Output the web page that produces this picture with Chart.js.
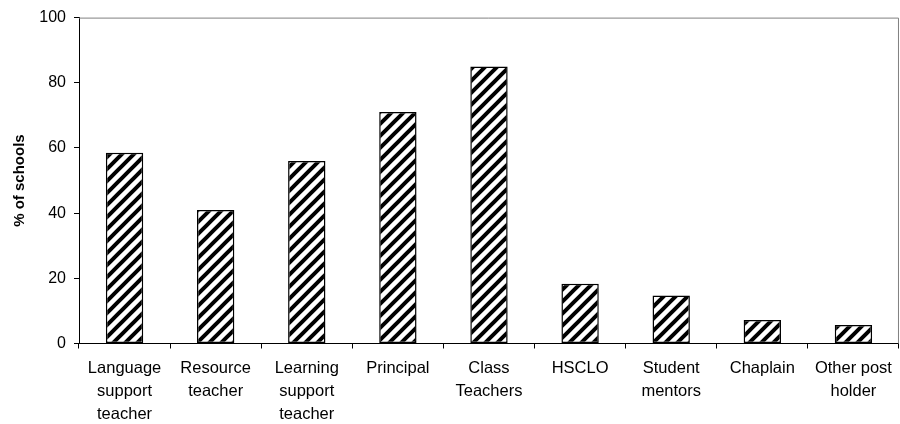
<!DOCTYPE html>
<html>
<head>
<meta charset="utf-8">
<script src="https://cdn.jsdelivr.net/npm/chart.js@4"></script>
<style>
	html, body { margin: 0; padding: 0; background: #fff; }
	#wrap { width: 900px; height: 424px; }
</style>
</head>
<body>
<div id="wrap"><canvas id="barChart" width="900" height="424"></canvas></div>
<script>
// categorias y valores
var categorias = [
	['Language', 'support', 'teacher'],
	['Resource', 'teacher'],
	['Learning', 'support', 'teacher'],
	'Principal',
	['Class', 'Teachers'],
	'HSCLO',
	['Student', 'mentors'],
	'Chaplain',
	['Other post', 'holder']
];
var porcentajes = [58.5, 41, 56, 71, 85, 18.3, 14.7, 7.2, 5.7];
var ticksY = [0, 20, 40, 60, 80, 100];

// patron de rayas diagonales
function crearRayas() {
	var s = 12;
	var c = document.createElement('canvas');
	c.width = s;
	c.height = s;
	var g = c.getContext('2d');
	g.fillStyle = '#fff';
	g.fillRect(0, 0, s, s);
	g.strokeStyle = '#000';
	g.lineWidth = 4;
	g.beginPath();
	g.moveTo(0, s); g.lineTo(s, 0);
	g.moveTo(-s / 2, s / 2); g.lineTo(s / 2, -s / 2);
	g.moveTo(s / 2, s * 1.5); g.lineTo(s * 1.5, s / 2);
	g.stroke();
	return g.createPattern(c, 'repeat');
}

var ctx = document.getElementById('barChart').getContext('2d');
var rayas = crearRayas();

// bordes gris arriba y a la derecha del area
var bordeArea = {
	id: 'bordeArea',
	afterDraw: function(chart) {
		var a = chart.chartArea;
		var c = chart.ctx;
		c.save();
		c.strokeStyle = '#808080';
		c.lineWidth = 1;
		c.beginPath();
		c.moveTo(a.left, a.top + 0.5);
		c.lineTo(a.right - 0.5, a.top + 0.5);
		c.lineTo(a.right - 0.5, a.bottom);
		c.stroke();
		c.restore();
	}
};

new Chart(ctx, {
	type: 'bar',
	data: {
		labels: categorias,
		datasets: [{
			data: porcentajes,
			backgroundColor: rayas,
			borderColor: '#000',
			borderWidth: 1.5,
			borderSkipped: false,
			categoryPercentage: 1,
			barPercentage: 0.41
		}]
	},
	options: {
		responsive: false,
		animation: false,
		layout: { padding: { top: 16, right: 1, left: 0, bottom: 0 } },
		plugins: {
			legend: { display: false },
			tooltip: { enabled: false }
		},
		scales: {
			x: {
				grid: { offset: true, drawOnChartArea: false, color: '#000', tickLength: 5 },
				border: { color: '#000', width: 1 },
				ticks: {
					color: '#000',
					maxRotation: 0,
					autoSkip: false,
					padding: 8,
					font: { family: 'Liberation Sans, Arial, sans-serif', size: 16.5, lineHeight: 1.4 }
				},
				afterFit: function(scale) { scale.height = 80.5; }
			},
			y: {
				min: 0,
				max: 100,
				afterBuildTicks: function(scale) {
					scale.ticks = ticksY.map(function(v) { return { value: v }; });
				},
				grid: { drawOnChartArea: false, color: '#000', tickLength: 5 },
				border: { color: '#000', width: 1 },
				ticks: {
					color: '#000',
					padding: 8,
					font: { family: 'Liberation Sans, Arial, sans-serif', size: 16 }
				},
				title: {
					display: true,
					text: '% of schools',
					color: '#000',
					padding: { top: 11, bottom: 4 },
					font: { family: 'Liberation Sans, Arial, sans-serif', size: 15, weight: 'bold' }
				},
				afterFit: function(scale) { scale.width = 79; }
			}
		}
	},
	plugins: [bordeArea]
});
</script>
</body>
</html>
